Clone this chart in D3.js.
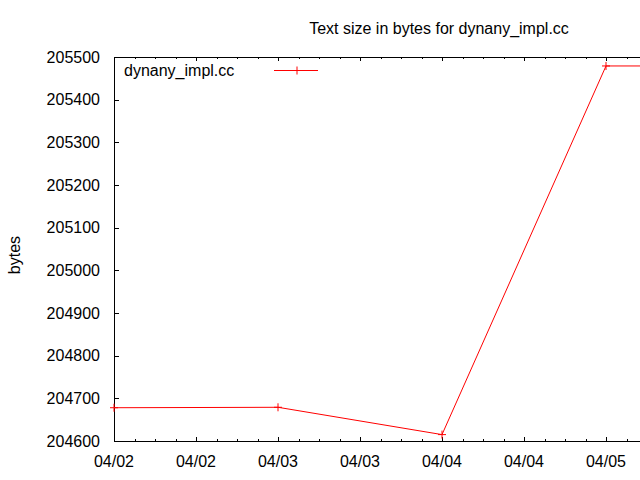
<!DOCTYPE html>
<html><head><meta charset="utf-8">
<script src="https://cdn.jsdelivr.net/npm/d3@7"></script>
<style>body{margin:0;background:#fff}svg{display:block}text{font-family:"Liberation Sans",Arial,sans-serif;font-size:16px;fill:#000}</style>
</head><body>
<script>
const title = "Text size in bytes for dynany_impl.cc";
const seriesName = "dynany_impl.cc";
const yLabel = "bytes";
const dates = ["2010-04-02T00:00", "2010-04-03T00:00", "2010-04-04T00:00", "2010-04-05T00:00", "2010-04-06T00:00"];
const values = [204678, 204679, 204615, 205479, 205479];
const yTicks = [204600, 204700, 204800, 204900, 205000, 205100, 205200, 205300, 205400, 205500];

const W = 640, H = 480;
const svg = d3.select("body").append("svg").attr("width", W).attr("height", H);
const parse = d3.timeParse("%Y-%m-%dT%H:%M");
const data = dates.map((d, i) => ({x: parse(d), y: values[i]}));

const pL = 114, pT = 57, pB = 441, pR = 770;
const x = d3.scaleTime().domain([parse("2010-04-02T00:00"), parse("2010-04-06T00:00")]).range([pL, pR]);
const y = d3.scaleLinear().domain([204600, 205500]).range([pB, pT]);

// frame
svg.append("rect").attr("x", pL + 0.5).attr("y", pT + 0.5).attr("width", pR - pL).attr("height", pB - pT)
  .attr("fill", "none").attr("stroke", "#000");

// y ticks
const gy = svg.append("g");
yTicks.forEach(v => {
  const yy = Math.round(y(v)) + 0.5;
  gy.append("line").attr("x1", pL).attr("x2", pL + 5).attr("y1", yy).attr("y2", yy).attr("stroke", "#000");
  gy.append("line").attr("x1", pR - 5).attr("x2", pR).attr("y1", yy).attr("y2", yy).attr("stroke", "#000");
  gy.append("text").attr("x", 100).attr("y", y(v)).attr("dy", "0.35em").attr("text-anchor", "end").text(v);
});

// x ticks
const majors = x.ticks(d3.timeHour.every(12));
const minors = x.ticks(d3.timeHour.every(3));
const fmt = d3.timeFormat("%m/%d");
const gx = svg.append("g");
minors.forEach(t => {
  const xx = Math.round(x(t)) + 0.5;
  gx.append("line").attr("x1", xx).attr("x2", xx).attr("y1", pB).attr("y2", pB - 2).attr("stroke", "#000");
  gx.append("line").attr("x1", xx).attr("x2", xx).attr("y1", pT).attr("y2", pT + 2).attr("stroke", "#000");
});
majors.forEach(t => {
  const xx = Math.round(x(t)) + 0.5;
  gx.append("line").attr("x1", xx).attr("x2", xx).attr("y1", pB).attr("y2", pB - 4).attr("stroke", "#000");
  gx.append("line").attr("x1", xx).attr("x2", xx).attr("y1", pT).attr("y2", pT + 4).attr("stroke", "#000");
  if (x(t) < W - 20)
    gx.append("text").attr("x", x(t)).attr("y", 461).attr("dy", "0.35em").attr("text-anchor", "middle").text(fmt(t));
});

// series
const line = d3.line().x(d => x(d.x)).y(d => y(d.y));
svg.append("path").datum(data).attr("d", line).attr("fill", "none").attr("stroke", "#f00").attr("stroke-width", 1);
data.forEach(d => {
  const px = x(d.x), py = y(d.y);
  svg.append("path").attr("d", `M${px - 4},${py}H${px + 4}M${px},${py - 4}V${py + 4}`).attr("stroke", "#f00").attr("stroke-width", 1);
});

// legend
svg.append("text").attr("x", 124).attr("y", 70).attr("dy", "0.35em").text(seriesName);
svg.append("line").attr("x1", 274).attr("x2", 318).attr("y1", 70.5).attr("y2", 70.5).attr("stroke", "#f00");
svg.append("path").attr("d", "M297,66.5V74.5M293,70.5H301").attr("stroke", "#f00");

// title & y label
svg.append("text").attr("x", 439).attr("y", 28).attr("dy", "0.35em").attr("text-anchor", "middle").text(title);
svg.append("text").attr("transform", "translate(14,255) rotate(-90)").attr("dy", "0.35em").attr("text-anchor", "middle").text(yLabel);
</script>
</body></html>
